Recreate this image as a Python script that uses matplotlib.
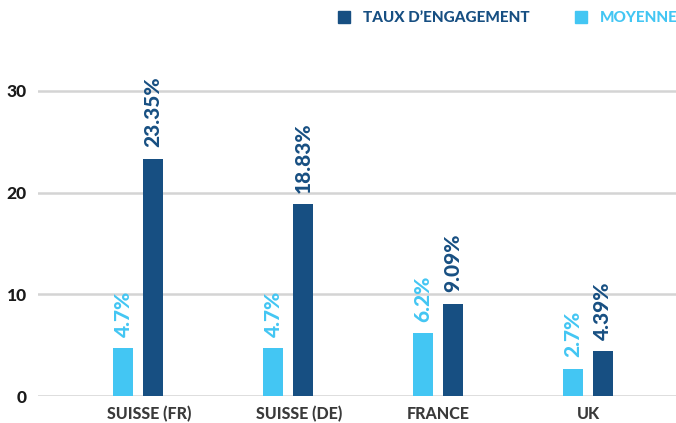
import matplotlib
matplotlib.use("Agg")
import matplotlib.pyplot as plt
from matplotlib.lines import Line2D
import numpy as np

plt.rcParams['font.family'] = ['Lato', 'DejaVu Sans']

categories = ["SUISSE (FR)", "SUISSE (DE)", "FRANCE", "UK"]
moyenne = [4.7, 4.7, 6.2, 2.7]
engagement = [23.35, 18.83, 9.09, 4.39]
moyenne_labels = ["4.7%", "4.7%", "6.2%", "2.7%"]
engagement_labels = ["23.35%", "18.83%", "9.09%", "4.39%"]
yticks = [0, 10, 20, 30]

DARK = "#174f82"
LIGHT = "#43c6f3"
HEAVY = 900

W, H = 676, 423
fig = plt.figure(figsize=(W / 100, H / 100), dpi=100)
px_per_unit = 10.17
ymax = 32
ax = fig.add_axes([38 / W, 27 / H, 1 - 38 / W, ymax * px_per_unit / H])

x = np.arange(len(categories))
bw = 0.135
off = 0.1
ax.bar(x - off, moyenne, bw, color=LIGHT, zorder=3)
ax.bar(x + off, engagement, bw, color=DARK, zorder=3)

for xi, v, lab in zip(x, moyenne, moyenne_labels):
    ax.annotate(lab, xy=(xi - off, v), xytext=(0, 8), textcoords="offset points",
                rotation=90, ha="center", va="bottom",
                color=LIGHT, fontsize=15, fontweight=HEAVY)
for xi, v, lab in zip(x, engagement, engagement_labels):
    ax.annotate(lab, xy=(xi + off, v), xytext=(0, 8), textcoords="offset points",
                rotation=90, ha="center", va="bottom",
                color=DARK, fontsize=15, fontweight=HEAVY)

ax.set_xlim(-0.667, 3.587)
ax.set_ylim(0, ymax)
ax.set_xticks(x)
ax.set_xticklabels([])
# category labels (first two sit slightly right of the bar pair, as in the reference)
label_shift_pt = [8, 8, 0, 0]
for xi, cat, dx in zip(x, categories, label_shift_pt):
    ax.annotate(cat, xy=(xi, 0), xytext=(dx, -7), textcoords="offset points",
                ha="center", va="top", fontsize=11.5, fontweight=HEAVY,
                color="#3a3a3a", annotation_clip=False)
ax.set_yticks(yticks)
ax.set_yticklabels([str(t) for t in yticks], fontsize=12.5, fontweight=HEAVY, color="#1a1a1a")
ax.tick_params(axis="both", length=0)
ax.tick_params(axis="y", pad=8)
ax.yaxis.grid(True, color="#d4d4d4", linewidth=1.8, zorder=0)
ax.set_axisbelow(True)
for s in ax.spines.values():
    s.set_visible(False)

handles = [Line2D([], [], marker="s", linestyle="", color=DARK, markersize=8.5),
           Line2D([], [], marker="s", linestyle="", color=LIGHT, markersize=8.5)]
leg = fig.legend(handles, ["TAUX D’ENGAGEMENT", "MOYENNE"], loc="center left",
                 bbox_to_anchor=(323 / W, 1 - 18 / H), ncol=2, frameon=False,
                 handlelength=1.0, handletextpad=0.7, columnspacing=2.9,
                 prop={"size": 11, "weight": HEAVY})
for t, c in zip(leg.get_texts(), [DARK, LIGHT]):
    t.set_color(c)

fig.savefig("out.png", dpi=100)
